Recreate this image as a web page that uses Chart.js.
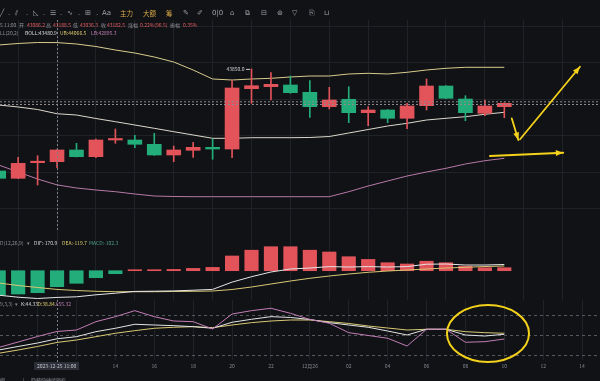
<!DOCTYPE html>
<html lang="zh">
<head>
<meta charset="utf-8">
<script src="https://cdn.jsdelivr.net/npm/chart.js@4.4.1/dist/chart.umd.min.js"></script>
<style>
  html,body{margin:0;padding:0;}
  body{width:600px;height:381px;background:#111216;position:relative;overflow:hidden;font-family:"Noto Sans CJK SC","Noto Sans",sans-serif;}
  canvas{position:absolute;left:0;top:0;}
  .t{position:absolute;white-space:nowrap;font-size:5px;line-height:5px;color:#8d9097;}
  .tb{position:absolute;white-space:nowrap;font-size:7px;line-height:7px;color:#9da0a7;top:9.5px;font-family:"DejaVu Sans",sans-serif;}
  .gold{color:#d9a945;font-size:6.5px;font-family:"Noto Sans CJK SC",sans-serif;}
  .r{color:#e35d62}.w{color:#d8d8d8}.y{color:#dccb6c}.p{color:#c47fb7}.g{color:#4fa184}
</style>
</head>
<body>
<canvas id="main" width="600" height="381"></canvas>
<canvas id="macd" width="600" height="381"></canvas>
<canvas id="kdj" width="600" height="381"></canvas>
<div id="texts"></div>
<script>
// ---------------- data ----------------
const categories = ['12-25 08:00','12-25 09:00','12-25 10:00','12-25 11:00','12-25 12:00','12-25 13:00','12-25 14:00','12-25 15:00',
  '12-25 16:00','12-25 17:00','12-25 18:00','12-25 19:00','12-25 20:00','12-25 21:00','12-25 22:00','12-25 23:00',
  '12-26 00:00','12-26 01:00','12-26 02:00','12-26 03:00','12-26 04:00','12-26 05:00','12-26 06:00','12-26 07:00',
  '12-26 08:00','12-26 09:00','12-26 10:00','12-26 11:00','12-26 12:00','12-26 13:00','12-26 14:00'];
const timeLabels = ['08','09','10','11','12','13','14','15','16','17','18','19','20','21','22','23',
  '12月26','01','02','03','04','05','06','07','08','09','10','11','12','13','14'];

const open  = [43009.7,42949.6,43078.0,43086.2,43182.5,43127.4,43264.8,43264.8,43229.4,43141.4,43180.0,43204.7,43190.7,43687.0,
               43703.5,43717.5,43657.4,43538.9,43599.8,43489.5,43511.7,43443.4,43547.1,43709.2,43602.2,43484.5,43538.9];
const high  = [43017.9,43122.4,43135.6,43188.5,43237.6,43273.0,43355.3,43303.5,43319.9,43215.4,43245.9,43273.0,43752.8,43850.0,
               43818.7,43791.5,43752.8,43698.5,43703.5,43538.9,43515.0,43566.8,43766.8,43712.0,43629.4,43594.0,43571.8];
const low   = [42943.8,42946.3,42894.4,43036.3,43125.0,43120.0,43237.6,43201.4,43138.0,43086.2,43122.4,43106.0,43119.1,43566.8,
               43594.0,43649.1,43451.6,43519.9,43407.2,43382.5,43407.2,43357.8,43511.7,43605.0,43423.6,43464.8,43448.3];
const close = [42949.6,43073.0,43086.0,43182.5,43127.4,43264.8,43268.9,43229.4,43141.4,43182.5,43204.7,43190.7,43692.8,43711.7,
               43723.2,43654.1,43538.9,43594.0,43489.5,43511.7,43443.4,43544.6,43709.2,43608.0,43489.5,43544.6,43566.8];

const bollUp  = [44046.7,44059.0,44067.2,44066.5,44054.9,44034.3,44005.5,43980.8,43947.9,43906.7,43840.9,43766.8,43758.6,43766.8,
                 43772.6,43783.3,43791.5,43791.5,43808.0,43813.7,43808.0,43822.0,43840.9,43854.9,43863.1,43863.1,43863.1];
const bollMid = [43552.9,43536.4,43515.8,43480.9,43470.5,43441.7,43415.4,43388.3,43361.1,43333.1,43306.0,43278.8,43278.8,43283.7,
                 43283.7,43283.7,43285.4,43293.6,43322.4,43351.2,43380.0,43402.2,43429.4,43443.4,43456.6,43476.3,43492.8];
const bollLow = [43059.0,43001.4,42943.8,42895.3,42869.8,42853.3,42839.3,42820.4,42803.9,42799.8,42798.2,42798.2,42798.2,42798.2,
                 42798.2,42798.2,42798.2,42798.2,42839.3,42886.2,42927.4,42968.5,43001.4,43031.9,43067.3,43094.4,43114.2];

const dif  = [-156.8,-169.6,-177.9,-170.9,-167.0,-154.2,-144.0,-132.5,-131.2,-129.3,-124.8,-119.7,-73.0,-38.4,
              -8.3,10.9,17.3,26.2,23.7,26.2,23.7,26.2,41.6,42.9,36.5,36.5,39.7];
const dea  = [-78.7,-94.7,-107.5,-119.7,-126.7,-131.8,-134.4,-134.4,-134.4,-133.1,-131.8,-129.9,-120.3,-104.3,
              -85.1,-65.9,-48.6,-33.9,-21.1,-10.2,-1.9,4.5,10.9,17.3,21.8,26.9,30.1];
const macdHist = [-155.5,-149.1,-140.8,-102.3,-80.6,-44.8,-19.2,3.8,6.4,8.3,14.7,21.1,94.1,131.2,
                  153.6,153.6,131.2,119.7,89.6,72.3,51.2,42.9,60.8,51.2,28.8,19.2,19.2];

const kLine = [27.5,32.8,38.0,44.33,47.5,55.0,60.1,66.1,65.0,64.0,62.5,60.1,69.1,73.6,77.5,76.3,73.3,68.5,65.0,61.6,56.0,50.0,58.6,58.6,50.0,48.5,51.1];
const dLine = [22.6,27.5,32.8,38.84,42.5,47.5,52.6,56.5,60.1,61.6,62.5,61.0,65.0,68.5,71.0,72.5,72.5,70.0,67.3,63.5,60.5,57.5,58.6,58.6,55.0,53.5,52.6];
const jLine = [31.3,39.5,47.8,55.32,57.5,70.0,77.5,86.5,77.5,71.0,70.0,59.0,81.5,86.5,90.1,82.6,73.3,67.6,53.5,49.3,45.1,33.5,58.6,58.6,39.1,40.0,44.0];

const priceTicks = [42700,43000,43300,43600,43900,44200];
const kdjLevels = [80,50,20];
const crossIndex = 3;
const crossLabel = '2023-12-25 11:00';

// ---------------- style ----------------
const UP = '#e2535a', DOWN = '#22ad7a', GRID = '#1f2227';
const FONT = '"Noto Sans CJK SC","Noto Sans",sans-serif';
const X_MIN = 0.067, X_MAX = 30.92;
const idx = open.map((_, i) => i);
const pts = arr => arr.map((v, i) => ({x: i, y: v}));
const candleColor = idx.map(i => close[i] >= open[i] ? UP : DOWN);

function xAxis(showTicks) {
  return {
    type: 'linear', min: X_MIN, max: X_MAX, offset: false,
    grid: {color: GRID, drawTicks: false, lineWidth: 1},
    border: {display: false},
    afterBuildTicks: s => { s.ticks = []; for (let i = 2; i <= 30; i += 2) s.ticks.push({value: i}); },
    ticks: {display: showTicks, autoSkip: false, maxRotation: 0, padding: 3, color: '#85888f',
      font: {size: 5, family: FONT},
      callback: v => (Math.abs(v - crossIndex) <= 1 ? '' : timeLabels[v])}
  };
}
function yAxis(min, max, tickVals, grid) {
  return {
    type: 'linear', min, max, display: true,
    ticks: {display: false}, border: {display: false},
    grid: {display: grid, color: GRID, drawTicks: false},
    afterBuildTicks: s => { s.ticks = tickVals.map(v => ({value: v})); }
  };
}
function baseOpts(pad) {
  return {
    responsive: false, animation: false, devicePixelRatio: 1, events: [],
    layout: {padding: pad},
    plugins: {legend: {display: false}, tooltip: {enabled: false}}
  };
}
function lineDs(label, arr, color, order) {
  return {type: 'line', label, data: pts(arr), borderColor: color, borderWidth: 1, pointRadius: 0, tension: 0, order};
}
function arrow(ctx, x1, y1, x2, y2, head) {
  ctx.beginPath(); ctx.moveTo(x1, y1); ctx.lineTo(x2, y2); ctx.stroke();
  const a = Math.atan2(y2 - y1, x2 - x1);
  ctx.beginPath(); ctx.moveTo(x2, y2);
  ctx.lineTo(x2 - head * Math.cos(a - 0.38), y2 - head * Math.sin(a - 0.38));
  ctx.lineTo(x2 - head * Math.cos(a + 0.38), y2 - head * Math.sin(a + 0.38));
  ctx.closePath(); ctx.fill();
}

// hand-drawn annotations, in data coordinates [x0,price0,x1,price1]
const annoArrows = [[26.38, 43443, 26.72, 43265], [26.81, 43271, 29.89, 43868], [25.26, 43133, 29.03, 43160]];
const annoEllipse = {cx: 25.16, cy: 52.25, rx: 2.11, ry: 42.75};

// ---------------- main (candles + BOLL) ----------------
const mainOverlay = {
  id: 'mainOverlay',
  afterDatasetsDraw(chart) {
    const {ctx, scales: {x, y}} = chart;
    ctx.save();
    // last price dotted line (double)
    const ly = y.getPixelForValue(close[close.length - 1]);
    ctx.strokeStyle = '#8f8a90'; ctx.lineWidth = 1; ctx.setLineDash([2, 2]);
    [ly - 1.5, ly + 1.2].forEach(yy => { ctx.beginPath(); ctx.moveTo(0, yy); ctx.lineTo(600, yy); ctx.stroke(); });
    // crosshair vertical
    const cx = Math.round(x.getPixelForValue(crossIndex)) + 0.5;
    ctx.strokeStyle = '#7b7e86'; ctx.setLineDash([2, 2]);
    ctx.beginPath(); ctx.moveTo(cx, 20); ctx.lineTo(cx, 362); ctx.stroke();
    ctx.setLineDash([]);
    // max high label
    const hi = Math.max(...high), hiIdx = high.indexOf(hi);
    const hx = x.getPixelForValue(hiIdx), hy = y.getPixelForValue(hi);
    ctx.fillStyle = '#d0d1d4'; ctx.font = '5px ' + FONT; ctx.textAlign = 'right'; ctx.textBaseline = 'middle';
    ctx.fillText(hi.toFixed(1), hx - 7, hy);
    ctx.strokeStyle = '#d0d1d4'; ctx.beginPath(); ctx.moveTo(hx - 5.5, hy + 0.5); ctx.lineTo(hx - 1.5, hy + 0.5); ctx.stroke();
    // arrows
    ctx.strokeStyle = '#f4d21c'; ctx.fillStyle = '#f4d21c'; ctx.lineWidth = 1.8; ctx.lineCap = 'round';
    annoArrows.forEach(a => arrow(ctx, x.getPixelForValue(a[0]), y.getPixelForValue(a[1]), x.getPixelForValue(a[2]), y.getPixelForValue(a[3]), 8));
    ctx.restore();
  }
};

new Chart(document.getElementById('main'), {
  type: 'bar',
  data: {datasets: [
    {label: 'body', data: idx.map(i => ({x: i, y: [open[i], close[i]]})), backgroundColor: candleColor,
      barThickness: 14, minBarLength: 1.5, grouped: false, order: 1},
    {label: 'wick', data: idx.map(i => ({x: i, y: [low[i], high[i]]})), backgroundColor: candleColor,
      barThickness: 1, grouped: false, order: 2},
    lineDs('UB', bollUp, '#d8cc8e', 3),
    lineDs('BOLL', bollMid, '#dcd8cc', 4),
    lineDs('LB', bollLow, '#b67aa6', 5)
  ]},
  options: Object.assign(baseOpts({top: 20, bottom: 151, left: 0, right: 0}), {
    scales: {x: xAxis(false), y: yAxis(42524.1, 44252.4, priceTicks, true)}
  }),
  plugins: [mainOverlay]
});

// ---------------- MACD ----------------
new Chart(document.getElementById('macd'), {
  type: 'bar',
  data: {datasets: [
    lineDs('DIF', dif, '#e6e6e6', 1),
    lineDs('DEA', dea, '#d9c874', 2),
    {label: 'MACD', data: pts(macdHist), backgroundColor: macdHist.map(v => v >= 0 ? UP : DOWN),
      barThickness: 13.5, minBarLength: 1, grouped: false, order: 3}
  ]},
  options: Object.assign(baseOpts({top: 230, bottom: 81, left: 0, right: 0}), {
    scales: {x: xAxis(false), y: yAxis(-187.5, 260.5, [], false)}
  })
});

// ---------------- KDJ ----------------
const kdjOverlay = {
  id: 'kdjOverlay',
  beforeDatasetsDraw(chart) {
    const {ctx, scales: {y}} = chart;
    ctx.save(); ctx.strokeStyle = '#55585f'; ctx.lineWidth = 1; ctx.setLineDash([3, 3]);
    kdjLevels.forEach(v => { const yy = Math.round(y.getPixelForValue(v)) + 0.5; ctx.beginPath(); ctx.moveTo(0, yy); ctx.lineTo(600, yy); ctx.stroke(); });
    ctx.restore();
  },
  afterDraw(chart) {
    const {ctx, scales: {x, y}} = chart;
    ctx.save();
    // crosshair time label
    const cx = x.getPixelForValue(crossIndex);
    ctx.fillStyle = '#2c2f37'; ctx.fillRect(cx - 23, 362, 45, 8);
    ctx.fillStyle = '#c9cbd1'; ctx.font = '5px ' + FONT; ctx.textAlign = 'center'; ctx.textBaseline = 'middle';
    ctx.fillText(crossLabel, cx - 0.5, 366.2);
    // ellipse annotation
    const ex = x.getPixelForValue(annoEllipse.cx), ey = y.getPixelForValue(annoEllipse.cy);
    const rx = x.getPixelForValue(annoEllipse.cx + annoEllipse.rx) - ex;
    const ry = y.getPixelForValue(annoEllipse.cy - annoEllipse.ry) - ey;
    ctx.strokeStyle = '#f2d11b'; ctx.lineWidth = 2;
    ctx.beginPath(); ctx.ellipse(ex, ey, rx, ry, 0, 0, Math.PI * 2); ctx.stroke();
    ctx.restore();
  }
};

new Chart(document.getElementById('kdj'), {
  type: 'line',
  data: {datasets: [
    lineDs('K', kLine, '#e4e4e4', 2),
    lineDs('D', dLine, '#d9c874', 3),
    lineDs('J', jLine, '#c27db5', 1)
  ]},
  options: Object.assign(baseOpts({top: 300, bottom: 9, left: 0, right: 0}), {
    scales: {x: xAxis(true), y: yAxis(12.5, 102.5, [], false)}
  }),
  plugins: [kdjOverlay]
});

// ---------------- texts ----------------
const T = document.getElementById('texts');
function addText(x, y, str, cls, base) {
  const d = document.createElement('div');
  d.className = base || 't';
  if (cls) d.className += ' ' + cls;
  d.style.left = x + 'px';
  if (y !== null) d.style.top = y + 'px';
  d.textContent = str;
  T.appendChild(d);
}
const c = crossIndex;
const chg = close[c] - close[c - 1];
// toolbar
[['╱',0],['⫽',15],['◺',33],['☰',50],['∿',67],['⊞',85],['Aa',102],['✎',183],['✐',197],['0|0',212],['⌂',230],['⧉',245],['⊟',261],['⊛',277],['▽',292],['⎘',309],['⊔',324]]
  .forEach(([s, xx]) => addText(xx, null, s, '', 'tb'));
[8, 26, 43, 60, 78, 96].forEach(xx => addText(xx, null, '.', '', 'tb'));
addText(120, 9.5, '主力', 'gold', 'tb');
addText(143, 9.5, '大额', 'gold', 'tb');
addText(166, 9.5, '筹', 'gold', 'tb');
// OHLC row
addText(0, 22, '5 11:00', '');
addText(19, 22, '开', '');
addText(27, 22, open[c].toFixed(1), 'r');
addText(46, 22, '高', '');
addText(53, 22, high[c].toFixed(1), 'r');
addText(73, 22, '低', '');
addText(80, 22, low[c].toFixed(1), 'r');
addText(101, 22, '收', '');
addText(107, 22, close[c].toFixed(1), 'r');
addText(128, 22, '涨幅', '');
addText(140, 22, (chg / close[c - 1] * 100).toFixed(2) + '%(' + chg.toFixed(1) + ')', 'r');
addText(170, 22, '振幅', '');
addText(183, 22, ((high[c] - low[c]) / close[c - 1] * 100).toFixed(2) + '%', 'r');
// BOLL row
addText(0, 30, 'LL(20,2)', '');
addText(25, 30, 'BOLL:' + bollMid[c].toFixed(1), 'w');
addText(60, 30, 'UB:' + bollUp[c].toFixed(1), 'y');
addText(91, 30, 'LB:' + bollLow[c].toFixed(1), 'p');
// MACD row
addText(0, 239.5, 'D(12,26,9)', '');
addText(27, 239.5, '▾', '');
addText(34, 239.5, 'DIF:' + dif[c].toFixed(1), 'w');
addText(62, 239.5, 'DEA:' + dea[c].toFixed(1), 'y');
addText(89, 239.5, 'MACD:' + macdHist[c].toFixed(1), 'g');
// KDJ row
addText(0, 301, '9,3,3)', '');
addText(15, 301, '▾', '');
addText(21, 301, 'K:' + kLine[c].toFixed(2), 'w');
addText(37.5, 301, 'D:' + dLine[c].toFixed(2), 'y');
addText(54.5, 301, 'J:' + jLine[c].toFixed(2), 'p');
// bottom bar
addText(0, 377, '例..', '');
addText(23, 377, '|', '');
addText(31, 377, '隐藏快捷编辑栏', '');
</script>
</body>
</html>
